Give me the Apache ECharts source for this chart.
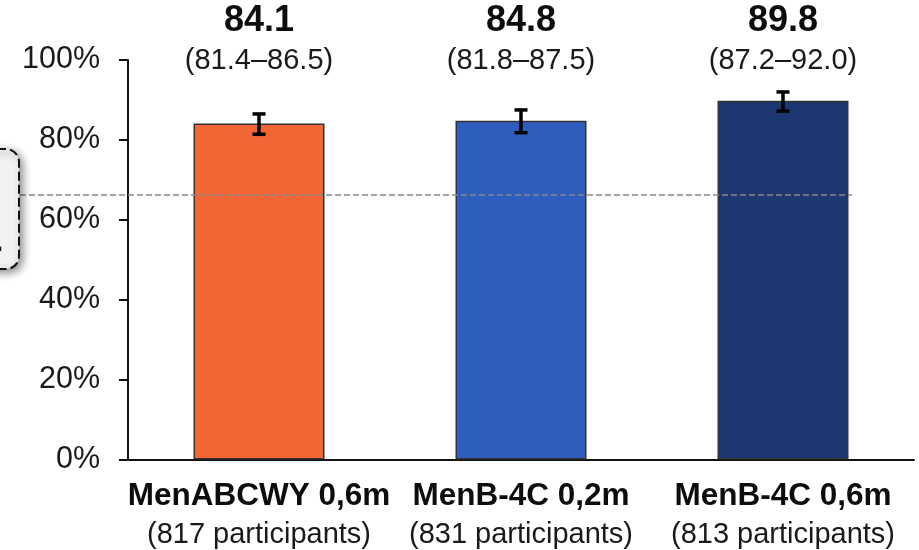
<!DOCTYPE html>
<html><head><meta charset="utf-8">
<script src="https://cdn.jsdelivr.net/npm/echarts@6/dist/echarts.min.js"></script>
<style>html,body{margin:0;padding:0;background:#fff}#c{width:919px;height:550px}</style>
</head><body><div id="c"></div>
<script>
var categories = ['MenABCWY 0,6m', 'MenB-4C 0,2m', 'MenB-4C 0,6m'];
var participants = ['(817 participants)', '(831 participants)', '(813 participants)'];
var values = [84.1, 84.8, 89.8];
var ciLow = [81.4, 81.8, 87.2];
var ciHigh = [86.5, 87.5, 92.0];
var colors = ['#F26535', '#2E5DBE', '#1D3771'];
var refLine = 66.2;
var yTicks = [0, 20, 40, 60, 80, 100];

var FONT = "'Liberation Sans', Arial, sans-serif";
var chart = echarts.init(document.getElementById('c'));
chart.setOption({
  animation: false,
  backgroundColor: '#fff',
  textStyle: { fontFamily: FONT },
  grid: { left: 128, right: 5, top: 60, bottom: 90.5 },
  xAxis: [{
    type: 'category', data: categories, position: 'bottom',
    axisLine: { lineStyle: { color: '#111', width: 2 } },
    axisTick: { show: false },
    axisLabel: {
      margin: 17, interval: 0,
      formatter: function (v, i) { return '{a|' + v + '}\n{b|' + participants[i] + '}'; },
      rich: {
        a: { fontFamily: FONT, fontSize: 31.5, fontWeight: 'bold', color: '#0d0d0d', lineHeight: 39 },
        b: { fontFamily: FONT, fontSize: 29, color: '#1a1a1a', lineHeight: 39 }
      }
    }
  }, {
    type: 'category', data: categories, position: 'top', offset: -21,
    axisLine: { show: false }, axisTick: { show: false },
    axisLabel: {
      margin: 0, interval: 0,
      formatter: function (v, i) {
        return '{a|' + values[i].toFixed(1) + '}\n{b|(' + ciLow[i].toFixed(1) + '\u2013' + ciHigh[i].toFixed(1) + ')}';
      },
      rich: {
        a: { fontFamily: FONT, fontSize: 36, fontWeight: 'bold', color: '#0d0d0d', lineHeight: 40 },
        b: { fontFamily: FONT, fontSize: 29, color: '#1a1a1a', lineHeight: 40 }
      }
    }
  }],
  yAxis: {
    type: 'value', min: 0, max: 100, interval: 20,
    splitLine: { show: false },
    axisLine: { show: true, lineStyle: { color: '#111', width: 2 } },
    axisTick: { show: true, length: 9, lineStyle: { color: '#111', width: 2 } },
    axisLabel: {
      margin: 28, fontFamily: FONT, fontSize: 30.5, color: '#1a1a1a',
      formatter: function (v) { return yTicks.indexOf(v) >= 0 ? v + '%' : ''; }
    }
  },
  graphic: [{
    type: 'rect', left: -30, top: 148, z: 10,
    shape: { width: 48, height: 120, r: 13 },
    style: {
      fill: '#f2f2f2', stroke: '#111', lineWidth: 2, lineDash: [9, 4],
      shadowBlur: 8, shadowColor: 'rgba(0,0,0,0.45)', shadowOffsetX: 3, shadowOffsetY: 3
    }
  }, {
    type: 'text', x: -5, y: 228, z: 11,
    style: { text: '.', font: 'bold 30px ' + FONT, fill: '#111' }
  }],
  series: [{
    type: 'bar', xAxisIndex: 0, barWidth: '50%',
    data: values.map(function (v, i) {
      return { value: v, itemStyle: { color: colors[i] } };
    }),
    itemStyle: { borderColor: '#333', borderWidth: 1.5 },
    markLine: {
      silent: true, symbol: 'none', label: { show: false },
      lineStyle: { color: '#888', type: [6, 3], width: 1.5 },
      data: [[{ x: 20, yAxis: refLine }, { x: 852, yAxis: refLine }]]
    }
  }, {
    type: 'custom', xAxisIndex: 0, z: 5,
    data: values.map(function (v, i) { return [i, ciLow[i], ciHigh[i]]; }),
    renderItem: function (params, api) {
      var lo = api.coord([api.value(0), api.value(1)]);
      var hi = api.coord([api.value(0), api.value(2)]);
      var w = 6.5;
      var st = { stroke: '#000', lineWidth: 3.5 };
      return { type: 'group', children: [
        { type: 'line', shape: { x1: lo[0], y1: lo[1], x2: hi[0], y2: hi[1] }, style: st },
        { type: 'line', shape: { x1: hi[0] - w, y1: hi[1], x2: hi[0] + w, y2: hi[1] }, style: st },
        { type: 'line', shape: { x1: lo[0] - w, y1: lo[1], x2: lo[0] + w, y2: lo[1] }, style: st }
      ] };
    }
  }]
});
</script></body></html>
